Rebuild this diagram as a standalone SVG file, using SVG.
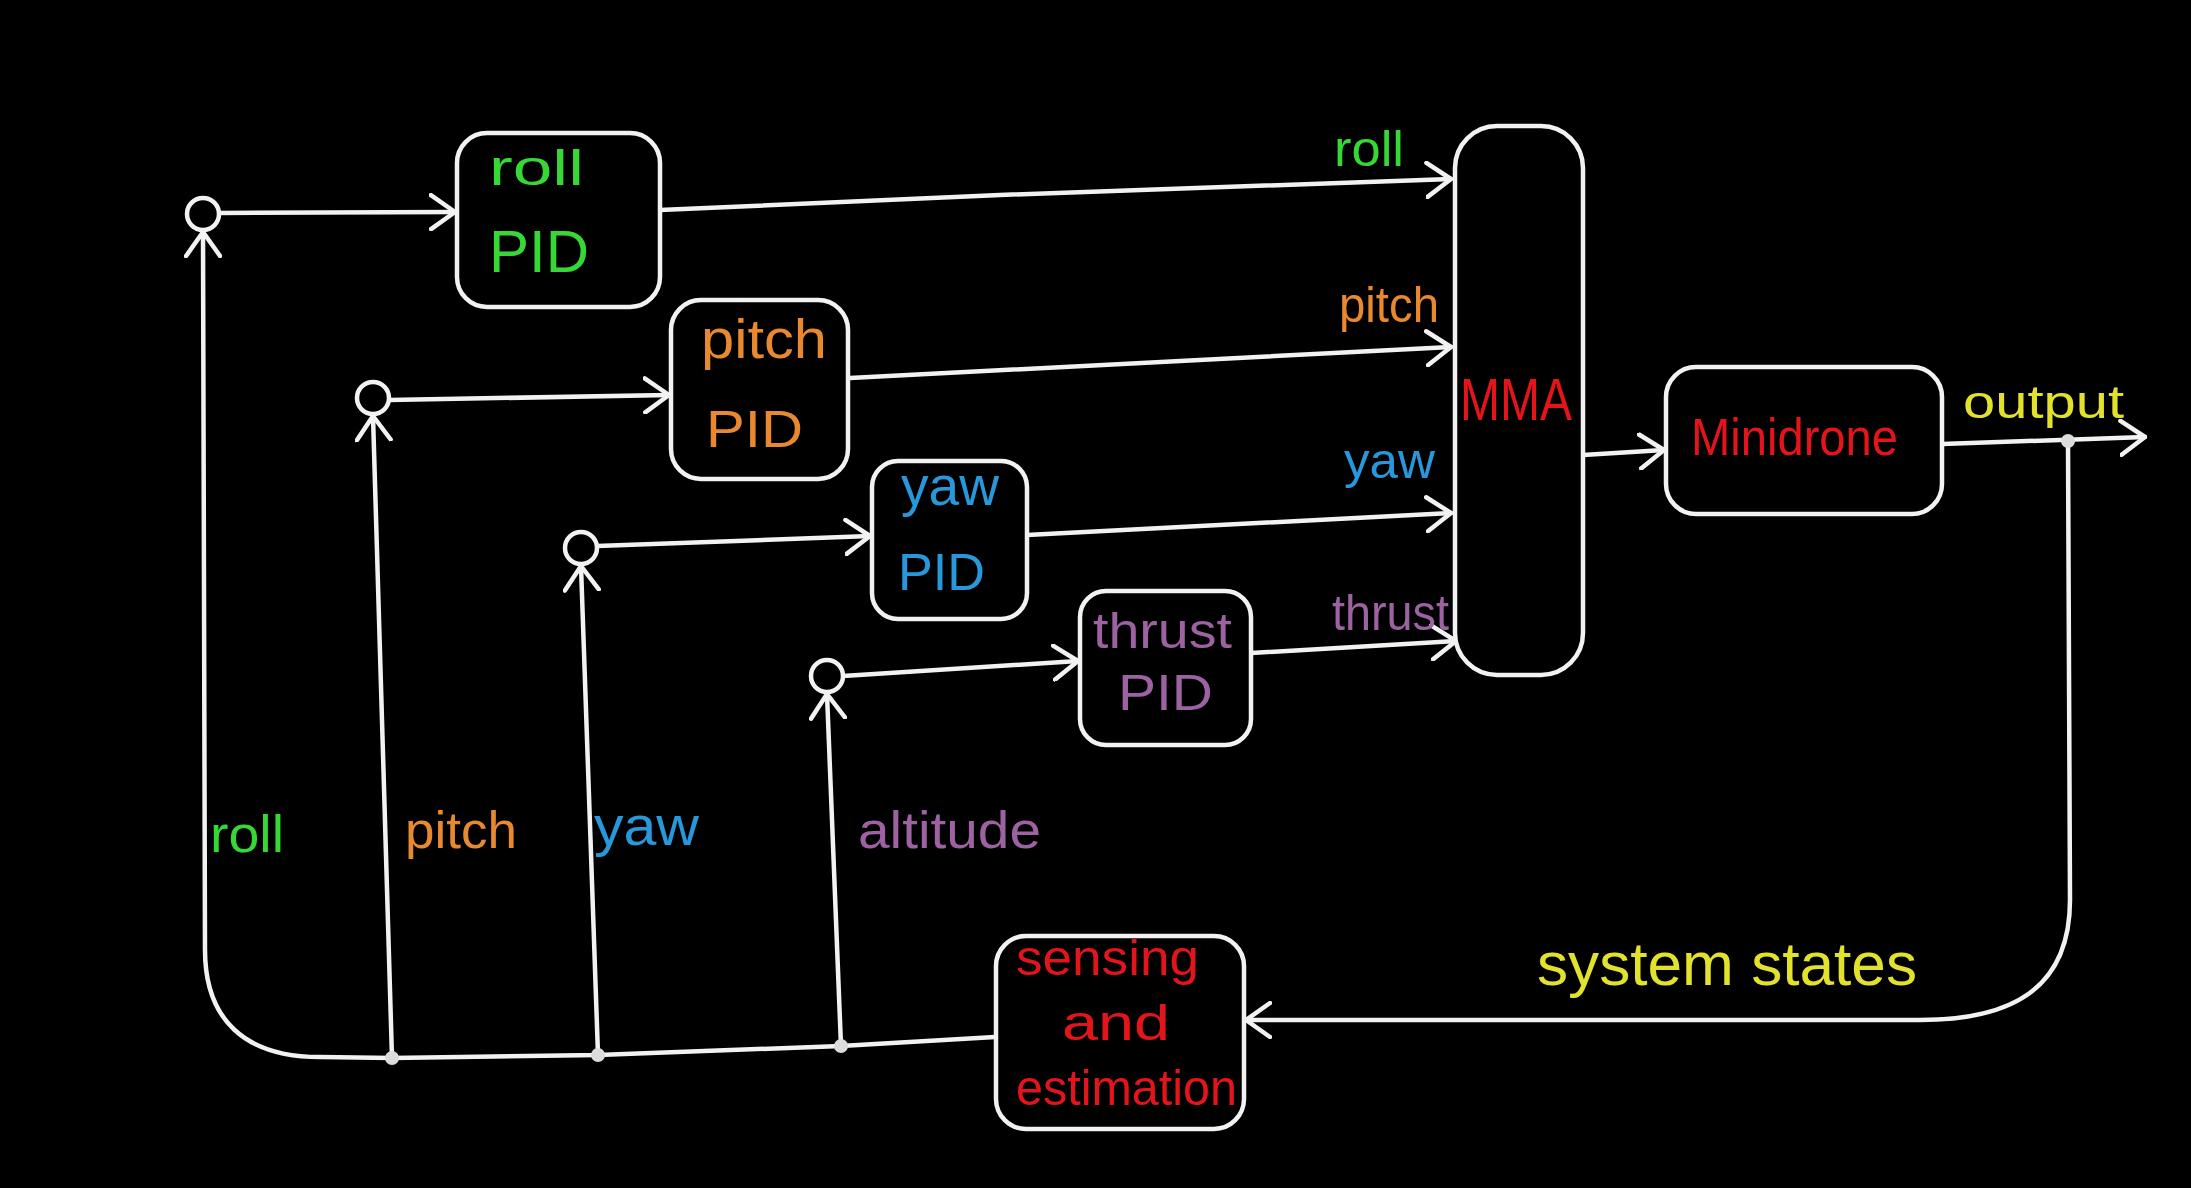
<svg xmlns="http://www.w3.org/2000/svg" width="2191" height="1188" viewBox="0 0 2191 1188">
<defs>
<style>
.box{fill:#000;stroke:#f2f2f2;stroke-width:4.5}
.ln{fill:none;stroke:#f2f2f2;stroke-width:4.5;stroke-linecap:round;stroke-linejoin:round}
.sum{fill:#000;stroke:#f2f2f2;stroke-width:4.5}
.dot{fill:#dcdcdc}
text{font-family:"Liberation Sans","DejaVu Sans",sans-serif;font-weight:normal}
.g{fill:#35d835}.o{fill:#e8892f}.b{fill:#2898dc}.p{fill:#9c62a2}.r{fill:#e3141a}.y{fill:#e2e22c}
</style>
<marker id="ah" markerUnits="userSpaceOnUse" viewBox="0 0 28 38" markerWidth="28" markerHeight="38" refX="26" refY="19" orient="auto">
<path d="M2,2 L26,19 L2,36" fill="none" stroke="#f2f2f2" stroke-width="4.5" stroke-linecap="round" stroke-linejoin="round"/>
</marker>
</defs>
<rect x="0" y="0" width="2191" height="1188" fill="#000"/>

<g id="connectors">
<path class="ln" d="M219,213 L455,212" marker-end="url(#ah)"/>
<path class="ln" d="M660,210 L1000,195 L1451,179" marker-end="url(#ah)"/>
<path class="ln" d="M389,400 L669,395" marker-end="url(#ah)"/>
<path class="ln" d="M850,378 L1451,347" marker-end="url(#ah)"/>
<path class="ln" d="M597,546 L870,536" marker-end="url(#ah)"/>
<path class="ln" d="M1027,535 L1451,513" marker-end="url(#ah)"/>
<path class="ln" d="M843,676 L1078,661" marker-end="url(#ah)"/>
<path class="ln" d="M1251,653 L1456,641" marker-end="url(#ah)"/>
<path class="ln" d="M1583,455 L1664,450" marker-end="url(#ah)"/>
<path class="ln" d="M1942,444 L2145,437" marker-end="url(#ah)"/>
<path class="ln" d="M2068,441 L2070,900 C2070,990 2010,1020 1920,1020 L1246,1020" marker-end="url(#ah)"/>
<path class="ln" d="M995,1037 L841,1046 L598,1055 L392,1058 L320,1057 C245,1057 205,1020 205,950 L203,232" marker-end="url(#ah)"/>
<path class="ln" d="M392,1058 L373,416" marker-end="url(#ah)"/>
<path class="ln" d="M598,1055 L581,566" marker-end="url(#ah)"/>
<path class="ln" d="M841,1046 L827,694" marker-end="url(#ah)"/>
<circle class="dot" cx="392" cy="1058" r="7"/>
<circle class="dot" cx="598" cy="1055" r="7"/>
<circle class="dot" cx="841" cy="1046" r="7"/>
<circle class="dot" cx="2068" cy="441" r="7"/>
<text class="g" x="1334" y="166" font-size="50" textLength="70" lengthAdjust="spacingAndGlyphs">roll</text>
<text class="o" x="1339" y="322" font-size="50" textLength="100" lengthAdjust="spacingAndGlyphs">pitch</text>
<text class="b" x="1344" y="478" font-size="50" textLength="91" lengthAdjust="spacingAndGlyphs">yaw</text>
<text class="p" x="1332" y="630" font-size="50" textLength="117" lengthAdjust="spacingAndGlyphs">thrust</text>
<text class="y" x="1963" y="418" font-size="46" textLength="161" lengthAdjust="spacingAndGlyphs">output</text>
<text class="y" x="1537" y="985" font-size="62" textLength="380" lengthAdjust="spacingAndGlyphs">system states</text>
<text class="g" x="210" y="852" font-size="52" textLength="74" lengthAdjust="spacingAndGlyphs">roll</text>
<text class="o" x="405" y="848" font-size="52" textLength="112" lengthAdjust="spacingAndGlyphs">pitch</text>
<text class="b" x="594" y="845" font-size="55" textLength="105" lengthAdjust="spacingAndGlyphs">yaw</text>
<text class="p" x="858" y="848" font-size="52" textLength="183" lengthAdjust="spacingAndGlyphs">altitude</text>
</g>

<g id="sum-roll"><circle class="sum" cx="203" cy="214" r="16"/></g>
<g id="sum-pitch"><circle class="sum" cx="373" cy="398" r="16"/></g>
<g id="sum-yaw"><circle class="sum" cx="581" cy="548" r="16"/></g>
<g id="sum-altitude"><circle class="sum" cx="827" cy="676" r="16"/></g>

<g id="roll-pid">
<rect class="box" x="457" y="133" width="203" height="174" rx="30"/>
<text class="g" x="489" y="185" font-size="50" textLength="95" lengthAdjust="spacingAndGlyphs">roll</text>
<text class="g" x="489" y="272" font-size="60" textLength="100" lengthAdjust="spacingAndGlyphs">PID</text>
</g>
<g id="pitch-pid">
<rect class="box" x="671" y="300" width="177" height="179" rx="30"/>
<text class="o" x="701" y="358" font-size="55" textLength="126" lengthAdjust="spacingAndGlyphs">pitch</text>
<text class="o" x="706" y="447" font-size="52" textLength="97" lengthAdjust="spacingAndGlyphs">PID</text>
</g>
<g id="yaw-pid">
<rect class="box" x="872" y="461" width="155" height="158" rx="26"/>
<text class="b" x="901" y="505" font-size="55" textLength="98" lengthAdjust="spacingAndGlyphs">yaw</text>
<text class="b" x="898" y="590" font-size="52" textLength="87" lengthAdjust="spacingAndGlyphs">PID</text>
</g>
<g id="thrust-pid">
<rect class="box" x="1080" y="591" width="171" height="154" rx="26"/>
<text class="p" x="1093" y="648" font-size="50" textLength="139" lengthAdjust="spacingAndGlyphs">thrust</text>
<text class="p" x="1118" y="710" font-size="50" textLength="95" lengthAdjust="spacingAndGlyphs">PID</text>
</g>
<g id="mma">
<rect class="box" x="1455" y="126" width="128" height="549" rx="42"/>
<text class="r" x="1460" y="420" font-size="60" textLength="112" lengthAdjust="spacingAndGlyphs">MMA</text>
</g>
<g id="minidrone">
<rect class="box" x="1666" y="367" width="276" height="147" rx="30"/>
<text class="r" x="1691" y="455" font-size="52" textLength="207" lengthAdjust="spacingAndGlyphs">Minidrone</text>
</g>
<g id="sensing">
<rect class="box" x="996" y="936" width="248" height="193" rx="30"/>
<text class="r" x="1016" y="975" font-size="50" textLength="183" lengthAdjust="spacingAndGlyphs">sensing</text>
<text class="r" x="1062" y="1040" font-size="50" textLength="108" lengthAdjust="spacingAndGlyphs">and</text>
<text class="r" x="1016" y="1105" font-size="50" textLength="221" lengthAdjust="spacingAndGlyphs">estimation</text>
</g>
</svg>
